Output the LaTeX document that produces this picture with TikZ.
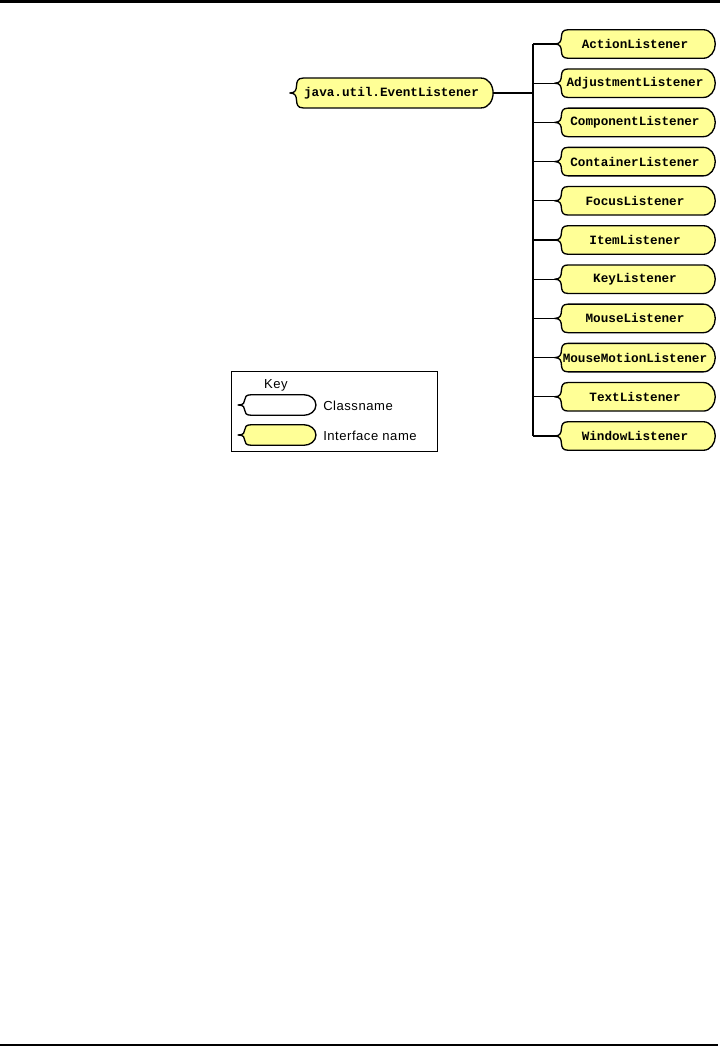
\documentclass[tikz,border=0pt]{standalone}
\usepackage{fontspec}
\usepackage{tikz}
\usetikzlibrary{calc}
\newfontfamily\listenerfont{Liberation Mono}
\newfontfamily\keyfont[LetterSpace=4]{Liberation Sans}
\definecolor{ifyellow}{RGB}{255,255,150}
\pgfdeclarelayer{background}
\pgfsetlayers{background,main}
\tikzset{
  iface/.style={
    inner sep=0pt,
    minimum width=120pt,
    minimum height=21pt,
    font=\listenerfont\bfseries\fontsize{9.5}{11}\selectfont
  },
  bubble line/.style={
    draw=black,
    line width=1pt,
    line join=round
  },
  link/.style={
    draw=black,
    line width=0.8pt
  },
  keytext/.style={
    font=\keyfont\fontsize{9.8}{11}\selectfont,
    inner sep=0pt
  }
}
% outline of a class / interface box, left end curly, right end round
\newcommand{\bubble}[2]{%
  \path[bubble line, fill=#2] ([xshift=10pt]#1.north west)
    -- ([xshift=-9pt]#1.north east) to[out=0,in=90] (#1.east)
    to[out=-90,in=0] ([xshift=-9pt]#1.south east)
    -- ([xshift=10pt]#1.south west)
    .. controls ([xshift=1pt]#1.south west) and ([xshift=9pt]#1.west) .. (#1.west)
    .. controls ([xshift=9pt]#1.west) and ([xshift=1pt]#1.north west) .. cycle;}

\begin{document}
\begin{tikzpicture}[x=0.75pt, y=-0.75pt]
  \useasboundingbox (0,0) rectangle (720,1049);

  % page rules
  \draw[line width=2.4pt] (0,1.5) -- (720,1.5);
  \draw[line width=2.2pt] (0,1045) -- (718,1045);

  % root interface
  \node[iface, minimum width=152pt, minimum height=22pt] (event) at (391.5,93) {java.util.EventListener};

  % listener interfaces
  \foreach \name [count=\i from 0] in {ActionListener, AdjustmentListener,
      ComponentListener, ContainerListener, FocusListener, ItemListener,
      KeyListener, MouseListener, MouseMotionListener, TextListener, WindowListener} {
    \node[iface] (\name) at (635,44+39.2*\i) {\name};
  }

  % Connections
  \coordinate (fork) at (533,93);
  \draw[link] (event.east) -- (fork);
  \draw[link] (fork |- ActionListener.west) -- (fork |- WindowListener.west);
  \foreach \name in {ActionListener, AdjustmentListener, ComponentListener,
      ContainerListener, FocusListener, ItemListener, KeyListener,
      MouseListener, MouseMotionListener, TextListener, WindowListener} {
    \draw[link] (fork |- \name.west) -- (\name.west);
  }

  % Key
  \node[draw, line width=0.6pt, minimum width=155pt, minimum height=60pt] (keybox) at (334.5,411) {};
  \node[keytext] (keytitle) at (276,385) {Key};
  \node[iface, minimum width=58pt, minimum height=15pt] (classkey) at (277,405) {};
  \node[iface, minimum width=58pt, minimum height=15pt] (ifacekey) at (277,435) {};
  \node[keytext, anchor=west] (classlabel) at (323,406) {Classname};
  \node[keytext, anchor=west] (ifacelabel) at (323,436) {Interface name};

  % box outlines
  \begin{pgfonlayer}{background}
    \bubble{event}{ifyellow}
    \foreach \name in {ActionListener, AdjustmentListener, ComponentListener,
        ContainerListener, FocusListener, ItemListener, KeyListener,
        MouseListener, MouseMotionListener, TextListener, WindowListener} {
      \bubble{\name}{ifyellow}
    }
    \bubble{classkey}{white}
    \bubble{ifacekey}{ifyellow}
  \end{pgfonlayer}

\end{tikzpicture}
\end{document}
